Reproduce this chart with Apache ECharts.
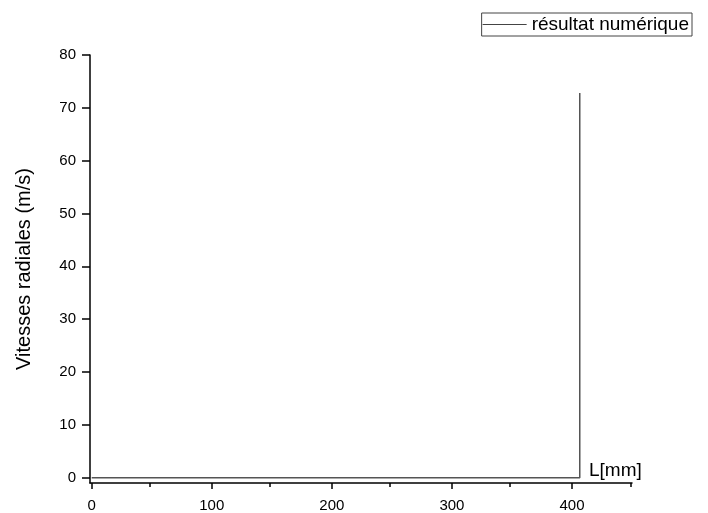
<!DOCTYPE html>
<html>
<head>
<meta charset="utf-8">
<script src="https://cdn.jsdelivr.net/npm/echarts@6/dist/echarts.min.js"></script>
<style>html,body{margin:0;padding:0;background:#fff;}#c{width:708px;height:513px;}</style>
</head>
<body>
<div id="c"></div>
<script>
const seriesName = 'résultat numérique';
const xValues = [0, 406.5, 406.5];
const yValues = [0, 0, 72.8];
const xTicks = [0, 100, 200, 300, 400];
const yTicks = [0, 10, 20, 30, 40, 50, 60, 70, 80];

const chart = echarts.init(document.getElementById('c'), null, {renderer: 'canvas'});
const font = 'Arial, "Liberation Sans", Helvetica, sans-serif';
chart.setOption({
  animation: false,
  backgroundColor: '#fff',
  grid: {left: 90, right: 76, top: 55, bottom: 29, containLabel: false},
  legend: {
    data: [seriesName],
    right: 16, top: 13,
    icon: 'rect', itemWidth: 44, itemHeight: 1,
    padding: [2, 3, 2, 1],
    borderColor: '#444', borderWidth: 1,
    textStyle: {fontSize: 19, color: '#000', fontFamily: font},
    itemStyle: {color: '#444'}
  },
  xAxis: {
    type: 'value', min: -1.4, max: 450,
    interval: 100,
    name: 'L[mm]', nameLocation: 'end', nameGap: -43,
    nameTextStyle: {fontSize: 19, color: '#000', fontFamily: font, verticalAlign: 'bottom', lineHeight: 22, padding: [0, 0, 1, 0]},
    axisLine: {show: true, onZero: false, lineStyle: {color: '#000', width: 1.5}},
    axisTick: {show: true, inside: false, length: 6, lineStyle: {color: '#000', width: 1.5},
      customValues: xTicks},
    minorTick: {show: true, splitNumber: 2, length: 4, lineStyle: {color: '#000', width: 1.5}},
    axisLabel: {fontSize: 15, color: '#000', fontFamily: font, margin: 15,
      customValues: xTicks, formatter: v => String(v)},
    splitLine: {show: false}
  },
  yAxis: {
    type: 'value', min: -1, max: 80,
    name: 'Vitesses radiales (m/s)', nameLocation: 'middle', nameGap: 56,
    nameTextStyle: {fontSize: 20, color: '#000', fontFamily: font},
    axisLine: {show: true, onZero: false, lineStyle: {color: '#000', width: 1.5}},
    axisTick: {show: true, inside: false, length: 8, lineStyle: {color: '#000', width: 1.5},
      customValues: yTicks},
    minorTick: {show: true, splitNumber: 2, length: 4, lineStyle: {color: '#000', width: 1.5}},
    axisLabel: {fontSize: 15, color: '#000', fontFamily: font, margin: 14,
      customValues: yTicks, formatter: v => String(v)},
    splitLine: {show: false}
  },
  series: [{
    name: seriesName,
    type: 'line',
    data: xValues.map((x, i) => [x, yValues[i]]),
    showSymbol: false,
    symbol: 'none',
    lineStyle: {color: '#555', width: 1.5},
    itemStyle: {color: '#555'}
  }]
});
</script>
</body>
</html>
